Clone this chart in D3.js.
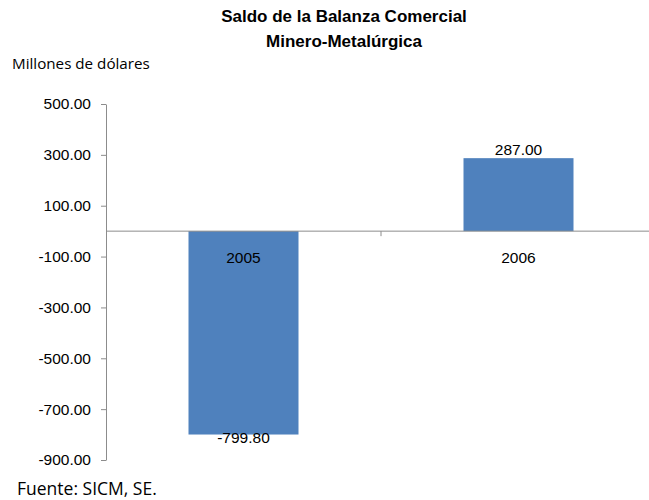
<!DOCTYPE html>
<html>
<head>
<meta charset="utf-8">
<script src="https://cdn.jsdelivr.net/npm/d3@7"></script>
<style>
  body { margin: 0; background: #fff; }
  svg { display: block; }
</style>
</head>
<body>
<div id="chart"></div>
<script>
var years = ["2005", "2006"];
var saldo = [-799.80, 287.00];
var tickValues = [500, 300, 100, -100, -300, -500, -700, -900];
var titleLines = ["Saldo de la Balanza Comercial", "Minero-Metalúrgica"];

var width = 649, height = 500;
// plain hyphen for negatives, like the original
var format = function(v) { return d3.format(".2f")(v).replace("\u2212", "-"); };

var svg = d3.select("#chart").append("svg")
    .attr("width", width)
    .attr("height", height);

var y = d3.scaleLinear()
    .domain([-900, 500])
    .range([460, 104]);

var x = d3.scaleBand()
    .domain(years)
    .range([106, 656])
    .paddingInner(0.6)
    .paddingOuter(0.3);

// title
svg.append("text")
    .attr("x", 344)
    .attr("y", 22)
    .attr("text-anchor", "middle")
    .style("font-family", "'Liberation Sans', Arial, sans-serif")
    .style("font-weight", "bold")
    .style("font-size", "17px")
    .selectAll("tspan")
    .data(titleLines)
  .enter().append("tspan")
    .attr("x", 344)
    .attr("dy", function(d, i) { return i ? 25 : 0; })
    .text(function(d) { return d; });

svg.append("text")
    .attr("x", 12)
    .attr("y", 69)
    .style("font-family", "'Open Sans', 'Noto Sans', sans-serif")
    .style("font-size", "15.2px")
    .text("Millones de dólares");

svg.append("text")
    .attr("x", 17)
    .attr("y", 495)
    .style("font-family", "'Open Sans', 'Noto Sans', sans-serif")
    .style("font-size", "17.5px")
    .text("Fuente: SICM, SE.");

// bars
svg.append("g")
    .selectAll("rect")
    .data(saldo)
  .enter().append("rect")
    .attr("x", function(d, i) { return x(years[i]); })
    .attr("width", x.bandwidth())
    .attr("y", function(d) { return y(Math.max(0, d)); })
    .attr("height", function(d) { return Math.abs(y(d) - y(0)); })
    .style("fill", "#4F81BD");

// y axis
var yAxis = svg.append("g")
    .attr("transform", "translate(106,0)")
    .call(d3.axisLeft(y).tickValues(tickValues).tickFormat(format).tickSize(5).tickSizeOuter(0).tickPadding(10));
yAxis.select(".domain").attr("stroke", "#8c8c8c");
yAxis.selectAll(".tick line").attr("stroke", "#8c8c8c");
yAxis.selectAll("text")
    .style("font-family", "'Liberation Sans', Arial, sans-serif")
    .style("font-size", "15.5px")
    .attr("fill", "#000");

// category axis at zero
svg.append("line")
    .attr("x1", 106).attr("x2", width)
    .attr("y1", y(0)).attr("y2", y(0))
    .attr("stroke", "#8c8c8c");

svg.append("g")
    .selectAll("line")
    .data(years.slice(1))
  .enter().append("line")
    .attr("x1", function(d) { return x(d) - x.step() * x.paddingInner() / 2; })
    .attr("x2", function(d) { return x(d) - x.step() * x.paddingInner() / 2; })
    .attr("y1", y(0)).attr("y2", y(0) + 5)
    .attr("stroke", "#8c8c8c");

svg.append("g")
    .selectAll("text")
    .data(years)
  .enter().append("text")
    .attr("x", function(d) { return x(d) + x.bandwidth() / 2; })
    .attr("y", y(0) + 32)
    .attr("text-anchor", "middle")
    .style("font-family", "'Liberation Sans', Arial, sans-serif")
    .style("font-size", "15.5px")
    .text(function(d) { return d; });

// data labels
svg.append("g")
    .selectAll("text")
    .data(saldo)
  .enter().append("text")
    .attr("x", function(d, i) { return x(years[i]) + x.bandwidth() / 2; })
    .attr("y", function(d) { return d >= 0 ? y(d) - 3 : y(d) + 8; })
    .attr("text-anchor", "middle")
    .style("font-family", "'Liberation Sans', Arial, sans-serif")
    .style("font-size", "15.5px")
    .text(function(d) { return format(d); });
</script>
</body>
</html>
